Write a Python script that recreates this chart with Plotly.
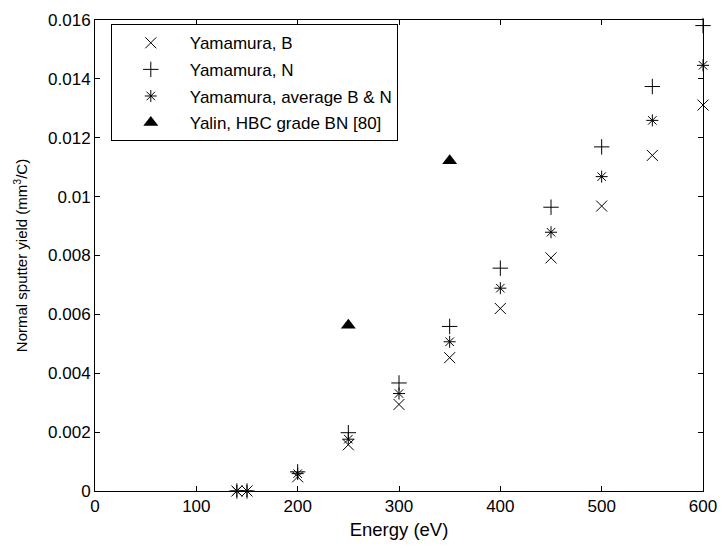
import plotly.graph_objects as go

energy = [140, 150, 200, 250, 300, 350, 400, 450, 500, 550, 600]
yam_B = [0.0, 0.0, 0.00048, 0.00157, 0.00294, 0.00453, 0.0062, 0.00792, 0.00968, 0.0114, 0.01311]
yam_N = [0.0, 0.0, 0.00065, 0.00198, 0.00367, 0.00559, 0.00757, 0.00964, 0.01169, 0.01374, 0.01581]
yam_avg = [0.0, 0.0, 0.00059, 0.00176, 0.00331, 0.00507, 0.00689, 0.00879, 0.01068, 0.01259, 0.01446]
yalin_E = [250, 350]
yalin_Y = [0.00563, 0.01122]

x_ticks = [0, 100, 200, 300, 400, 500, 600]
y_ticks = [0, 0.002, 0.004, 0.006, 0.008, 0.01, 0.012, 0.014, 0.016]
y_labels = ["0", "0.002", "0.004", "0.006", "0.008", "0.01", "0.012", "0.014", "0.016"]

FONT = "Liberation Sans, Arial, sans-serif"

fig = go.Figure()
fig.add_trace(go.Scatter(x=energy, y=yam_B, mode="markers", name="Yamamura, B", legendgroup="g1",
                         marker=dict(symbol="x-thin", size=11, line=dict(color="black", width=1), color="black"),
                         cliponaxis=False))
fig.add_trace(go.Scatter(x=energy, y=yam_N, mode="markers", name="Yamamura, N", legendgroup="g2",
                         marker=dict(symbol="cross-thin", size=11, line=dict(color="black", width=1), color="black"),
                         cliponaxis=False))
fig.add_trace(go.Scatter(x=energy, y=yam_avg, mode="markers", name="Yamamura, average B & N", legendgroup="g3",
                         marker=dict(symbol="asterisk-open", size=10, line=dict(color="black", width=1), color="black"),
                         cliponaxis=False))
fig.add_trace(go.Scatter(x=yalin_E, y=yalin_Y, mode="markers", name="Yalin, HBC grade BN [80]", legendgroup="g4",
                         marker=dict(symbol="triangle-up", size=13, color="black", line=dict(width=0)),
                         cliponaxis=False))

axis_common = dict(showgrid=False, zeroline=False, showline=True, linecolor="black", linewidth=1,
                   mirror="ticks", ticks="inside", ticklen=5, tickcolor="black", tickwidth=1,
                   tickfont=dict(family=FONT, size=17, color="black"))

fig.update_layout(
    width=728, height=548,
    margin=dict(l=95, r=16, t=11, b=57),
    paper_bgcolor="white", plot_bgcolor="white",
    font=dict(family=FONT, size=17, color="black"),
    xaxis=dict(range=[0, 600], tickvals=x_ticks, ticktext=[str(v) for v in x_ticks],
               title=dict(text="Energy (eV)", standoff=7, font=dict(size=18.5)), **axis_common),
    yaxis=dict(range=[0, 0.016], tickvals=y_ticks, ticktext=y_labels,
               title=dict(text="Normal sputter yield (mm<sup>3</sup>/C)", standoff=16, font=dict(size=15)), **axis_common),
    legend=dict(x=0.026, y=0.991, xanchor="left", yanchor="top", bordercolor="black", borderwidth=1,
                bgcolor="white", font=dict(size=17), itemwidth=68, tracegroupgap=1.5),
    showlegend=True,
)

fig.write_html("out.html")
